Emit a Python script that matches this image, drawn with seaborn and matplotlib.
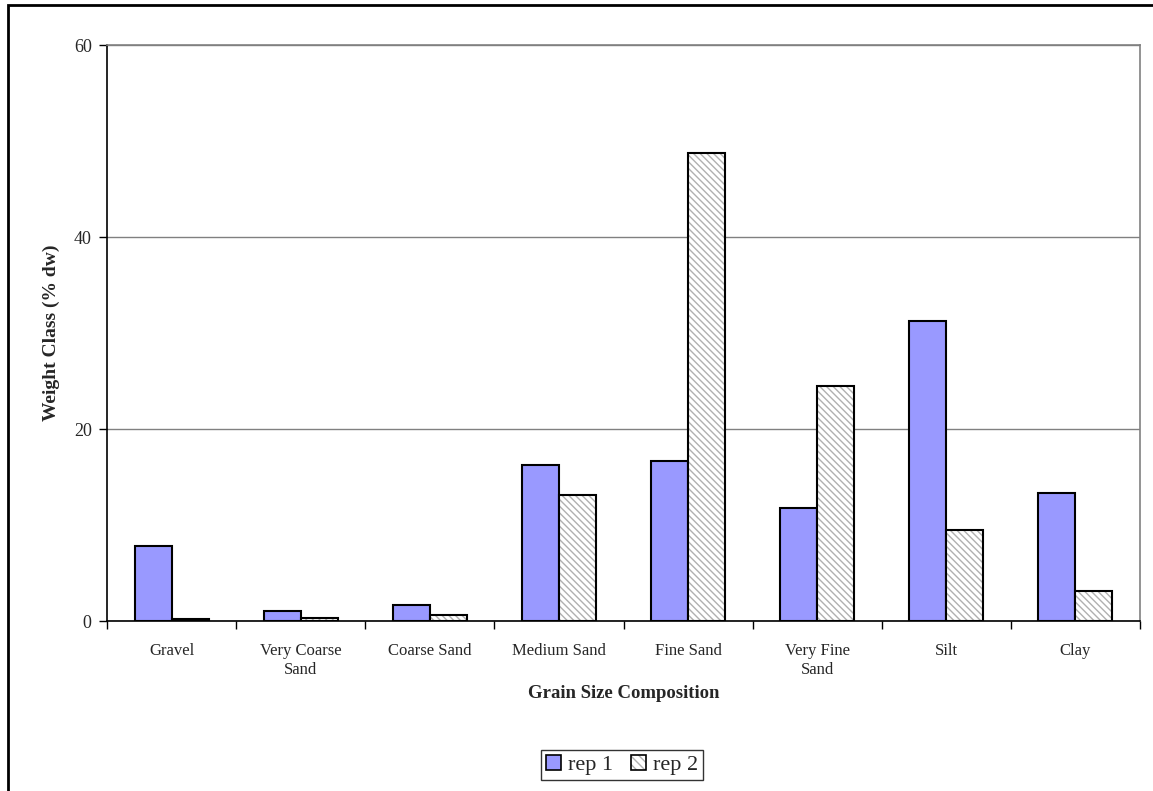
import matplotlib
matplotlib.use("Agg")
import matplotlib.pyplot as plt
from matplotlib.patches import Rectangle, Patch
import numpy as np
import pandas as pd
import seaborn as sns

# ==========================================
# DATA
# ==========================================
CATEGORIES = ["Gravel", "Very Coarse\nSand", "Coarse Sand", "Medium Sand",
              "Fine Sand", "Very Fine\nSand", "Silt", "Clay"]
REP1 = [7.8, 1.0, 1.7, 16.2, 16.7, 11.8, 31.3, 13.3]
REP2 = [0.2, 0.3, 0.6, 13.1, 48.7, 24.5, 9.5, 3.1]
SERIES = ["rep 1", "rep 2"]
Y_TICKS = [0, 20, 40, 60]

REP1_COLOR = "#9999ff"
HATCH_COLOR = "#b0b0b0"
HATCH = "\\\\\\\\\\"


def make_plot():
    df = pd.DataFrame({
        "category": CATEGORIES * 2,
        "value": REP1 + REP2,
        "rep": [SERIES[0]] * len(CATEGORIES) + [SERIES[1]] * len(CATEGORIES),
    })

    sns.set_style("white")
    plt.rcParams["font.family"] = ["Liberation Serif", "DejaVu Serif"]
    plt.rcParams["hatch.linewidth"] = 1.0

    fig = plt.figure(figsize=(11.53, 7.91), dpi=100)
    ax = fig.add_axes([107 / 1153, 1 - 621 / 791, 1033 / 1153, 576 / 791])

    sns.barplot(
        data=df, x="category", y="value", hue="rep",
        order=CATEGORIES, hue_order=SERIES,
        palette=[REP1_COLOR, "white"], saturation=1,
        width=0.574, edgecolor="black", linewidth=1.5,
        legend=False, ax=ax, errorbar=None,
    )

    # rep 2: grey hatch inside, black outline drawn on top
    for bar in ax.containers[1]:
        bar.set_hatch(HATCH)
        bar.set_edgecolor(HATCH_COLOR)
        bar.set_linewidth(0)
        ax.add_patch(Rectangle(bar.get_xy(), bar.get_width(), bar.get_height(),
                               facecolor="none", edgecolor="black",
                               linewidth=1.5, zorder=bar.get_zorder() + 0.1))

    ax.set_xlim(-0.5, len(CATEGORIES) - 0.5)
    ax.set_ylim(0, 60)
    ax.set_yticks(Y_TICKS)
    ax.yaxis.grid(True, color="#808080", linewidth=1.0)
    ax.set_axisbelow(True)

    # ticks on category boundaries
    ax.set_xticks(range(len(CATEGORIES)))
    ax.set_xticklabels(CATEGORIES, fontsize=12, linespacing=1.25)
    ax.set_xticks(np.arange(-0.5, len(CATEGORIES), 1), minor=True)
    ax.tick_params(axis="x", which="major", length=0, pad=16)
    ax.tick_params(axis="x", which="minor", length=6, width=1, color="black",
                   direction="out", bottom=True)
    ax.tick_params(axis="y", length=6, width=1, color="black", direction="out",
                   left=True, labelsize=13, pad=5)

    for side in ["left", "bottom"]:
        ax.spines[side].set_color("black")
        ax.spines[side].set_linewidth(1.2)
    for side in ["top", "right"]:
        ax.spines[side].set_color("#808080")
        ax.spines[side].set_linewidth(1.2)

    ax.set_xlabel("Grain Size Composition", fontsize=13.5, fontweight="bold", labelpad=5)
    ax.set_ylabel("Weight Class (% dw)", fontsize=14, fontweight="bold", labelpad=10)

    h1 = Patch(facecolor=REP1_COLOR, edgecolor="black", linewidth=1.2)
    h2 = (Patch(facecolor="white", edgecolor=HATCH_COLOR, hatch="\\\\\\\\", linewidth=0),
          Patch(facecolor="none", edgecolor="black", linewidth=1.2))
    fig.legend([h1, h2], SERIES, loc="center", bbox_to_anchor=(622 / 1153, 1 - 765 / 791),
               ncol=2, frameon=True, fancybox=False, edgecolor="black", fontsize=16,
               handlelength=0.7, handleheight=0.7, handletextpad=0.3,
               columnspacing=0.8, borderpad=0.2, borderaxespad=0)
    fig.legends[0].get_frame().set_linewidth(1.0)

    # outer chart-area border (runs off the right and bottom edges)
    fig.patches.append(Rectangle((8 / 1153, -0.1), 1.2, 1.1 - 5 / 791,
                                 transform=fig.transFigure, fill=False,
                                 edgecolor="black", linewidth=2.0))

    fig.savefig("out.png", dpi=100)


if __name__ == "__main__":
    make_plot()
